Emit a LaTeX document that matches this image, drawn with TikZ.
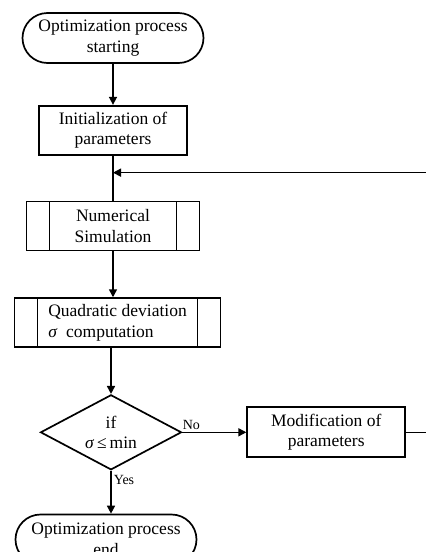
\documentclass[tikz,border=0pt]{standalone}
\usepackage{fontspec}
\setmainfont{Liberation Serif}
\usepackage{tikz}
\usetikzlibrary{shapes.geometric, shapes.misc, arrows.meta, positioning, calc}

\begin{document}
\begin{tikzpicture}[node distance=45pt, every node/.style={font=\fontsize{17.5pt}{20.5pt}\selectfont}]
    \tikzstyle{terminal} = [rounded rectangle, draw, line width=1.7pt, minimum width=181pt, minimum height=50pt, inner sep=0pt, align=center]
    \tikzstyle{process} = [rectangle, draw, line width=1.7pt, minimum height=49pt, inner sep=0pt, align=center]
    \tikzstyle{subproc} = [process, path picture={
        \draw[line width=1.7pt] ([xshift=23pt]path picture bounding box.north west) -- ([xshift=23pt]path picture bounding box.south west);
        \draw[line width=1.7pt] ([xshift=-23pt]path picture bounding box.north east) -- ([xshift=-23pt]path picture bounding box.south east);}]
    \tikzstyle{decision} = [diamond, draw, line width=1.7pt, aspect=1.88, minimum width=141pt, minimum height=75pt, inner sep=0pt, align=center]
    \tikzstyle{flow} = [-{Triangle[length=8pt, width=8pt]}, line width=1.6pt]
    \tikzstyle{answer} = [font=\fontsize{14pt}{16pt}\selectfont, inner sep=2pt]

    \clip (0pt,0pt) rectangle (426pt,-552pt);

    \node[terminal] (start) at (113pt,-38pt) {Optimization process\\starting};
    \node[process, minimum width=148pt, below=41pt of start] (init) {Initialization of\\parameters};
    \node[subproc, minimum width=173pt, below=45pt of init] (sim) {Numerical\\Simulation};
    \node[subproc, minimum width=206pt, below=46pt of sim, xshift=4.5pt, align=left] (quad) {Quadratic deviation\\ \textit{σ}\ \ computation};
    \node[decision, below=46pt of quad, xshift=-6.5pt] (test) {if\\\textit{σ}\,≤\,min};
    \node[process, minimum width=158pt, minimum height=50pt, right=64pt of test] (modif) {Modification of\\parameters};
    \node[terminal, below=43pt of test, xshift=-5pt] (finish) {Optimization process\\end};

    \coordinate (loop) at ($(init.south)!0.38!(sim.north)$);

    \draw[flow] (start) -- (init);
    \draw[line width=1.6pt] (init) -- (sim);
    \draw[flow] (sim.south) -- (sim.south |- quad.north);
    \draw[flow] (test.north |- quad.south) -- (test.north);
    \draw[flow] (test.east) -- node[answer, pos=0.14, above] {No} (modif.west);
    \draw[flow] (test.south) -- node[answer, pos=0.21, right] {Yes} (test.south |- finish.north);
    \draw[flow] (modif.east) -- ++(23pt,0) |- (loop);
\end{tikzpicture}
\end{document}
